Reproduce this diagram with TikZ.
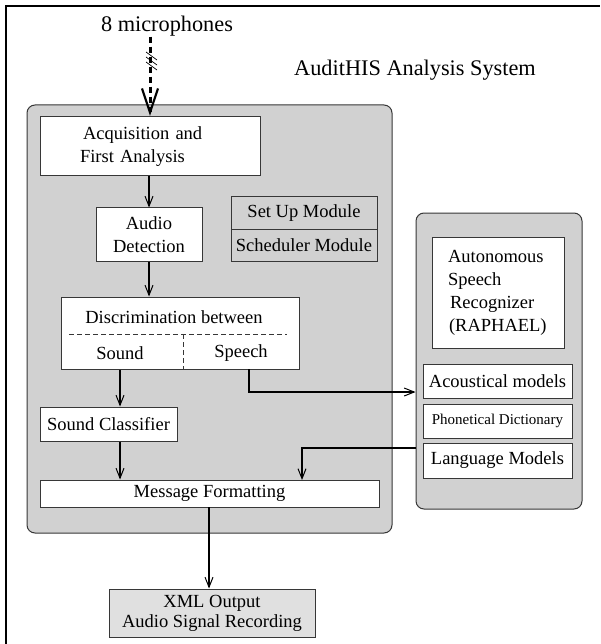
\documentclass[tikz,border=0pt]{standalone}
\usepackage{fontspec}
\setmainfont{Liberation Serif}
\usetikzlibrary{arrows.meta}
\definecolor{panelgray}{RGB}{209,209,209}
\definecolor{outgray}{RGB}{224,224,224}
\definecolor{edgegray}{RGB}{55,55,55}

\tikzset{every picture/.style={line width=1pt},
  blk/.style={draw=edgegray, fill=white, inner sep=0pt, align=center, font=\fontsize{18.5}{23}\selectfont},
  panel/.style={draw=edgegray, fill=panelgray, rounded corners=8pt, inner sep=0pt},
  lbl/.style={inner sep=0pt, font=\fontsize{18.5}{23}\selectfont},
  flow/.style={line width=1.5pt, -{Straight Barb[length=10pt,width=8pt,line width=1pt]}},
}

\begin{document}
\begin{tikzpicture}[x=1pt,y=1pt,yscale=-1,xscale=1]
	\useasboundingbox (0,0) rectangle (600,644);
	%Straight Lines: frame
	\draw [line width=2.5pt] (6,644) -- (6,6) -- (600,6) ;
	
	%Shape: Rounded Rectangle (analysis system)
	\node [panel, minimum width=365, minimum height=428] (sys) at (209.5,319) {};
	%Shape: Rounded Rectangle (speech recognizer)
	\node [panel, minimum width=166, minimum height=296] (asr) at (499,361) {};
	
	% Text Node
	\node [lbl, font=\fontsize{22.3}{26}\selectfont] (mic) at (167,26) {8 microphones};
	% Text Node
	\node [lbl, font=\fontsize{22.3}{26}\selectfont] (title) at (415,70) {AuditHIS Analysis System};
	
	%Shape: Rectangle
	\node [blk, minimum width=220, minimum height=59, text width=140, align=left] (acq) at (150,146.5) {\hspace*{3pt}Acquisition and\\First Analysis};
	%Shape: Rectangle
	\node [blk, minimum width=106, minimum height=53] (det) at (149,234.5) {Audio\\Detection};
	%Shape: Rectangle
	\node [blk, fill=panelgray, minimum width=146, minimum height=32] (setup) at (304,213) {Set Up Module};
	%Shape: Rectangle
	\node [blk, fill=panelgray, minimum width=146, minimum height=32] (sched) at (304,245) {Scheduler Module};
	%Shape: Rectangle
	\node [blk, minimum width=238, minimum height=72] (disc) at (180,333) {};
	% Text Node
	\node [lbl] (disctxt) at (174,317) {Discrimination between};
	% Text Node
	\node [lbl] (snd) at (120,353) {Sound};
	% Text Node
	\node [lbl] (spc) at (241,353) {Speech};
	%Straight Lines
	\draw [edgegray, dash pattern=on 5pt off 3pt] (69,334) -- (287,334) ;
	\draw [edgegray, dash pattern=on 5pt off 3pt] (183,334) -- (183,369) ;
	%Shape: Rectangle
	\node [blk, minimum width=137, minimum height=34] (cls) at (108.5,424) {Sound Classifier};
	%Shape: Rectangle
	\node [blk, minimum width=339, minimum height=27] (msg) at (209.5,493.5) {Message Formatting};
	%Shape: Rectangle
	\node [blk, fill=outgray, minimum width=206, minimum height=48] (xml) at (212,613) {XML Output\\[-3pt]Audio Signal Recording};
	
	%Shape: Rectangle
	\node [blk, minimum width=132, minimum height=111, text width=100, align=left] (rec) at (498,292.5) {Autonomous\\Speech\\\hspace*{2pt}Recognizer\\\hspace*{1pt}(RAPHAEL)};
	%Shape: Rectangle
	\node [blk, minimum width=149, minimum height=34] (ac) at (497.5,381) {Acoustical models};
	%Shape: Rectangle
	\node [blk, minimum width=149, minimum height=34, font=\fontsize{15}{18}\selectfont] (ph) at (497.5,421) {Phonetical Dictionary};
	%Shape: Rectangle
	\node [blk, minimum width=149, minimum height=35] (lm) at (497.5,460.5) {Language Models};
	
	\coordinate (spkout) at (249,369);
	\coordinate (spkin) at (asr.west |- 0,392);
	\coordinate (lmout) at (asr.west |- 0,448);
	\coordinate (lmin) at (302,480);
	\coordinate (msgout) at (209,507);
	\coordinate (micin) at ([yshift=-4pt]acq.north);
	
	%Straight Lines: microphones
	\draw [line width=3pt, dash pattern=on 6pt off 4pt] (micin |- mic.south) -- (micin) ;
	\draw [line width=2.2pt, line join=miter] (micin) ++(-8,-24) -- ++(8,24) -- ++(8,-24) ;
	\foreach \dy in {-5,0,5}
	  \draw [line width=0.7pt] (146,57+\dy) -- (157,65+\dy) ;
	%Straight Lines
	\draw [flow] (det.north |- acq.south) -- (det.north) ;
	\draw [flow] (det.south) -- (det.south |- disc.north) ;
	\draw [flow] (snd.south |- disc.south) -- (snd.south |- cls.north) ;
	\draw [flow] (snd.south |- cls.south) -- (snd.south |- msg.north) ;
	\draw [flow] (spkout) |- (spkin) ;
	\draw [flow] (lmout) -| (lmin) ;
	\draw [flow] (msgout) -- (msgout |- xml.north) ;
	
\end{tikzpicture}
\end{document}
